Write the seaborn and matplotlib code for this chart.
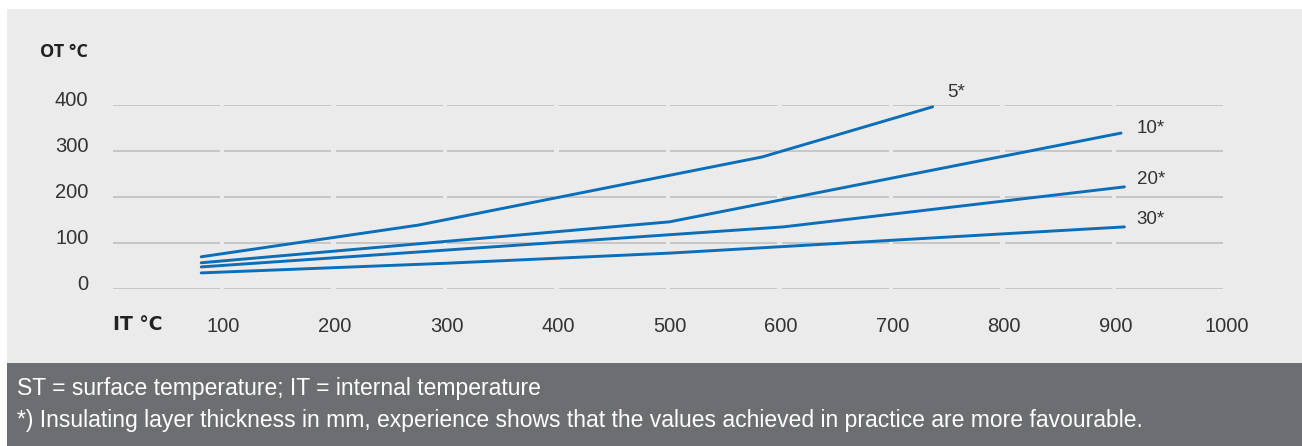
import matplotlib
matplotlib.use("Agg")
import matplotlib.pyplot as plt
import matplotlib.transforms as mtransforms
from matplotlib.patches import Rectangle
import seaborn as sns
import pandas as pd

# ---- data ----
it_5 = [80, 275, 583, 736]
ot_5 = [70, 139, 287, 396]
it_10 = [80, 500, 905]
ot_10 = [57, 146, 339]
it_20 = [80, 602, 908]
ot_20 = [48, 135, 222]
it_30 = [80, 300, 500, 600, 800, 908]
ot_30 = [35, 56, 78, 92, 120, 135]
series_labels = ["5*", "10*", "20*", "30*"]
label_pos = [(749, 427), (919, 348), (919, 237), (919, 152)]
x_ticks = [100, 200, 300, 400, 500, 600, 700, 800, 900, 1000]
y_ticks = [0, 100, 200, 300, 400]
y_title = "OT °C"
x_title = "IT °C"
footer_lines = [
    "ST = surface temperature; IT = internal temperature",
    "*) Insulating layer thickness in mm, experience shows that the values achieved in practice are more favourable.",
]

rows = []
for name, xs, ys in zip(series_labels, [it_5, it_10, it_20, it_30], [ot_5, ot_10, ot_20, ot_30]):
    for x, y in zip(xs, ys):
        rows.append({"IT": x, "OT": y, "series": name})
df = pd.DataFrame(rows)

sns.set_theme(style="white")
plt.rcParams["font.family"] = ["Liberation Sans", "DejaVu Sans"]

W, H = 1302, 446
fig = plt.figure(figsize=(W / 100, H / 100), dpi=100, facecolor="white")

# backgrounds
fig.patches.append(Rectangle((7 / W, (H - 363) / H), 1 - 7 / W, (363 - 9) / H,
                             transform=fig.transFigure, facecolor="#ebebeb", edgecolor="none", zorder=-5))
fig.patches.append(Rectangle((7 / W, 0), 1 - 7 / W, (H - 363) / H,
                             transform=fig.transFigure, facecolor="#6d6e72", edgecolor="none", zorder=-5))

x0, x1 = 112, 1227
y0, y1 = 289, 105
ax = fig.add_axes([x0 / W, (H - y0) / H, (x1 - x0) / W, (y0 - y1) / H])
ax.set_zorder(2)
ax.set_facecolor("none")
ax.set_xlim(0, 1000)
ax.set_ylim(0, 400)

# segmented gridlines
for yv in y_ticks:
    for k in range(10):
        ax.hlines(yv, k * 100 + 0.8, k * 100 + 96.5, color="#c4c4c4", linewidth=1.3, zorder=1)

palette = {s: "#0a6eb8" for s in series_labels}
sns.lineplot(data=df, x="IT", y="OT", hue="series", palette=palette, sort=False,
             estimator=None, linewidth=2.1, legend=False, ax=ax, zorder=3)

for lab, (lx, ly) in zip(series_labels, label_pos):
    ax.text(lx, ly, lab, fontsize=13.5, color="#333333", va="center", ha="left", clip_on=False)

for s in ax.spines.values():
    s.set_visible(False)
ax.set_xticks(x_ticks)
ax.set_yticks(y_ticks)
ax.set_xticklabels([str(v) for v in x_ticks])
ax.set_yticklabels([str(v) for v in y_ticks])
ax.tick_params(axis="both", length=0, labelsize=14.5, labelcolor="#333333")
ax.tick_params(axis="x", pad=20)
ax.tick_params(axis="y", pad=17)
ax.set_xlabel("")
ax.set_ylabel("")
offset = mtransforms.ScaledTranslation(0, 6 / 100, fig.dpi_scale_trans)
for lbl in ax.get_yticklabels():
    lbl.set_transform(lbl.get_transform() + offset)

fig.text(40 / W, 1 - 52 / H, y_title, fontsize=13, fontweight="bold", color="#222222",
         family=["Open Sans", "DejaVu Sans"], va="center", ha="left")
fig.text(113 / W, 1 - 325 / H, x_title, fontsize=13.5, fontweight="bold", color="#222222",
         family=["DejaVu Sans"], va="center", ha="left")

fig.text(17 / W, 1 - 388 / H, footer_lines[0], fontsize=16.5, color="white",
         family=["Liberation Sans", "DejaVu Sans"], va="center", ha="left")
fig.text(17 / W, 1 - 421 / H, footer_lines[1], fontsize=16.5, color="white",
         family=["Liberation Sans", "DejaVu Sans"], va="center", ha="left")

fig.savefig("out.png", dpi=100, facecolor="white")
